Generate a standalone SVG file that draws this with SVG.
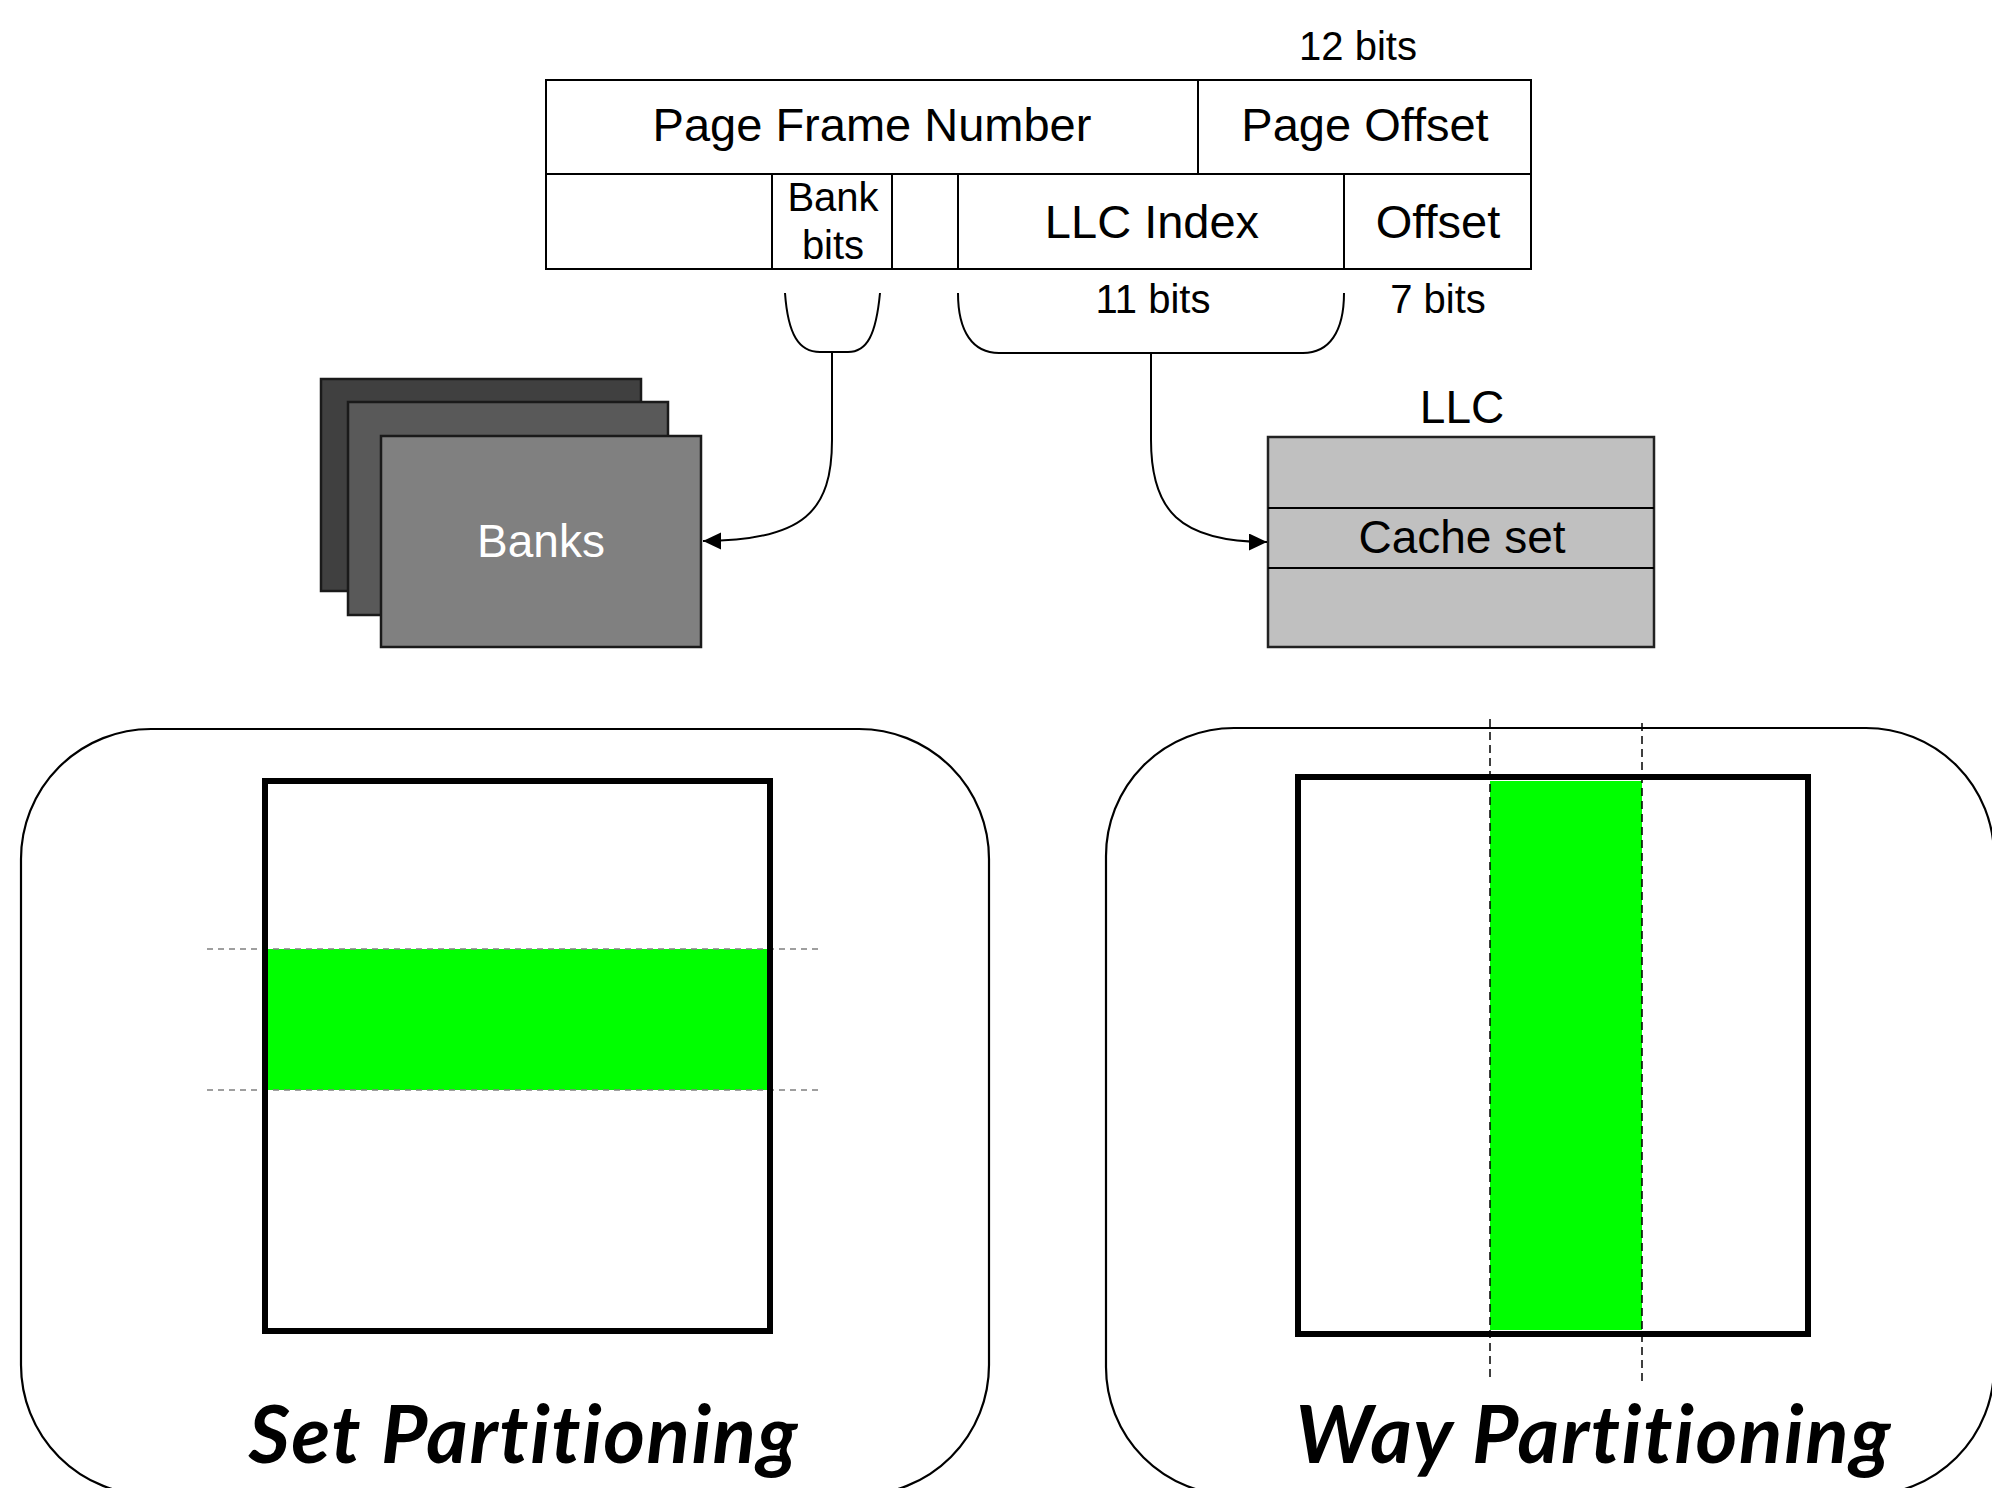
<svg xmlns="http://www.w3.org/2000/svg" width="1992" height="1488" viewBox="0 0 1992 1488">
  <defs>
    <marker id="arrow" markerUnits="userSpaceOnUse" markerWidth="20" markerHeight="18" refX="18" refY="8.5" orient="auto">
      <path d="M0,0 L18,8.5 L0,17 z" fill="#000"/>
    </marker>
    <style>
      .lbl { font-family: "Liberation Sans", Arial, sans-serif; fill: #000; text-anchor: middle; }
      .cell { fill: #fff; stroke: #000; stroke-width: 2; }
      .line { stroke: #000; stroke-width: 2; fill: none; }
      .brace { stroke: #000; stroke-width: 2; fill: none; }
      .bank { stroke: #1a1a1a; stroke-width: 2.5; }
      .llc { fill: #c0c0c0; stroke: #222; stroke-width: 2.5; }
      .panel { fill: #fff; stroke: #000; stroke-width: 2.2; }
      .grid { fill: none; stroke: #000; stroke-width: 6; }
      .band { fill: #00ff00; }
      .title { font-family: Lato, "Open Sans", sans-serif; font-weight: 700; font-style: italic; font-size: 80px; text-anchor: middle; fill: #000; font-variant-ligatures: none; font-feature-settings: "liga" 0, "clig" 0; }
    </style>
  </defs>
  <rect width="1992" height="1488" fill="#fff"/>

  <!-- address layout -->
  <g id="address">
    <rect class="cell" x="546" y="80" width="985" height="189"/>
    <line class="line" x1="546" y1="174" x2="1531" y2="174"/>
    <line class="line" x1="1198" y1="80" x2="1198" y2="174"/>
    <line class="line" x1="772" y1="174" x2="772" y2="269"/>
    <line class="line" x1="892" y1="174" x2="892" y2="269"/>
    <line class="line" x1="958" y1="174" x2="958" y2="269"/>
    <line class="line" x1="1344" y1="174" x2="1344" y2="269"/>
    <text class="lbl" x="1358" y="60" font-size="40">12 bits</text>
    <text class="lbl" x="872" y="141" font-size="47">Page Frame Number</text>
    <text class="lbl" x="1365" y="141" font-size="47">Page Offset</text>
    <text class="lbl" x="833" y="211" font-size="40">Bank</text>
    <text class="lbl" x="833" y="259" font-size="40">bits</text>
    <text class="lbl" x="1152" y="238" font-size="47">LLC Index</text>
    <text class="lbl" x="1438" y="238" font-size="47">Offset</text>
    <text class="lbl" x="1153" y="313" font-size="40">11 bits</text>
    <text class="lbl" x="1438" y="313" font-size="40">7 bits</text>
  </g>

  <!-- banks stack -->
  <g id="banks">
    <rect class="bank" x="321" y="379" width="320" height="212" fill="#404040"/>
    <rect class="bank" x="348" y="402" width="320" height="213" fill="#595959"/>
    <rect class="bank" x="381" y="436" width="320" height="211" fill="#808080"/>
    <text class="lbl" x="541" y="557" font-size="46" style="fill:#fff">Banks</text>
  </g>

  <!-- last level cache -->
  <g id="llc">
    <text class="lbl" x="1462" y="423" font-size="46">LLC</text>
    <rect class="llc" x="1268" y="437" width="386" height="210"/>
    <line class="line" x1="1268" y1="508" x2="1654" y2="508" stroke-width="2.5"/>
    <line class="line" x1="1268" y1="568" x2="1654" y2="568" stroke-width="2.5"/>
    <text class="lbl" x="1462" y="553" font-size="46">Cache set</text>
  </g>

  <!-- braces and arrows -->
  <g id="connectors">
    <path class="brace" d="M785,293 C788,335 799,352 820,352 L848,352 C867,352 876,335 880,293"/>
    <path class="brace" d="M958,293 C958,332 973,353 999,353 L1303,353 C1329,353 1344,332 1344,293"/>
    <path class="line" d="M832,352 L832,440 C832,510 805,541 703,541" marker-end="url(#arrow)"/>
    <path class="line" d="M1151,353 L1151,440 C1151,510 1179,542 1267,542" marker-end="url(#arrow)"/>
  </g>

  <!-- set partitioning -->
  <g id="set-partitioning">
    <rect class="panel" x="21" y="729" width="968" height="766" rx="130" ry="130"/>
    <rect x="265" y="781" width="505" height="550" fill="#fff"/>
    <rect class="band" x="268" y="949" width="499" height="141"/>
    <line x1="207" y1="949" x2="819" y2="949" stroke="#808080" stroke-width="1.6" stroke-dasharray="6,5"/>
    <line x1="207" y1="1090" x2="819" y2="1090" stroke="#808080" stroke-width="1.6" stroke-dasharray="6,5"/>
    <rect class="grid" x="265" y="781" width="505" height="550"/>
    <text class="title" x="523" y="1463" textLength="549">Set Partitioning</text>
  </g>

  <!-- way partitioning -->
  <g id="way-partitioning">
    <rect class="panel" x="1106" y="728" width="888" height="767" rx="128" ry="128"/>
    <rect x="1298" y="777" width="510" height="557" fill="#fff"/>
    <rect class="band" x="1490" y="781" width="152" height="549"/>
    <line x1="1490" y1="719" x2="1490" y2="1378" stroke="#000" stroke-width="1.5" stroke-dasharray="8,5"/>
    <line x1="1642" y1="723" x2="1642" y2="1382" stroke="#000" stroke-width="1.5" stroke-dasharray="8,5"/>
    <rect class="grid" x="1298" y="777" width="510" height="557"/>
    <text class="title" x="1593" y="1463" textLength="595">Way Partitioning</text>
  </g>
</svg>
